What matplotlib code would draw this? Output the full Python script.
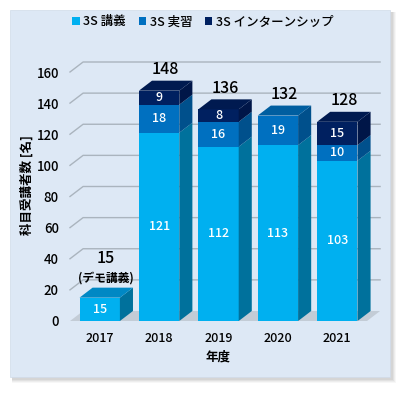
import matplotlib
matplotlib.use("Agg")
import matplotlib.pyplot as plt
from matplotlib.patches import Polygon, Rectangle
import numpy as np

plt.rcParams['font.family'] = ['Noto Sans CJK JP', 'DejaVu Sans']
plt.rcParams['font.weight'] = 'medium'

years = ['2017', '2018', '2019', '2020', '2021']
lecture = [15, 121, 112, 113, 103]
practice = [0, 18, 16, 19, 10]
internship = [0, 9, 8, 0, 15]
series_names = ['3S 講義', '3S 実習', '3S インターンシップ']
yticks = [0, 20, 40, 60, 80, 100, 120, 140, 160]

front_colors = ['#00b0f0', '#0070c0', '#002060']
side_colors = ['#00719c', '#00508c', '#001648']
top_colors = ['#0088c4', '#005ea0', '#001a50']

W, H = 403, 394
fig = plt.figure(figsize=(W / 100, H / 100), dpi=100)
fig.patch.set_facecolor('white')

# panel shadow + panel
for i, a in enumerate([0.06, 0.08, 0.10, 0.12]):
    off = 4 - i
    fig.patches.append(Rectangle(((10 + 2) / W, (H - 377 - 2 - off) / H), (380 + off) / W, (367 + off) / H,
                                 transform=fig.transFigure, facecolor='#808080', alpha=a,
                                 edgecolor='none', zorder=-3))
fig.patches.append(Rectangle((10 / W, (H - 377) / H), 380 / W, 367 / H, transform=fig.transFigure,
                             facecolor='#dde8f5', edgecolor='#d0dbe8', lw=0.5, zorder=-2))

ax_left, ax_right = 70, 367
y0px = 321
ppu = 249 / 160
ytop = 175
ax = fig.add_axes([ax_left / W, (H - y0px) / H, (ax_right - ax_left) / W, ytop * ppu / H])
ax.set_zorder(2)
ax.set_facecolor('none')
ax.set_xlim(-0.5, 4.5)
ax.set_ylim(0, ytop)
for s in ax.spines.values():
    s.set_visible(False)

x = np.arange(len(years))
w = 0.68
dx = 13 / 59
dy = 10 / ppu

# gridlines (3D)
grid_c = '#aab4be'
for t in yticks[1:]:
    ax.plot([-0.5, -0.5 + dx, 4.5 + dx], [t, t + dy, t + dy], color=grid_c, lw=1.0,
            clip_on=False, zorder=1)
# floor
ax.add_patch(Polygon([(-0.5, 0), (4.5, 0), (4.5 + dx, dy), (-0.5 + dx, dy)], closed=True,
                     facecolor='#c3ccd6', edgecolor='none', clip_on=False, zorder=1))

segments = [lecture, practice, internship]
bottom = np.zeros(len(years))
for si, vals in enumerate(segments):
    vals = np.array(vals, dtype=float)
    ax.bar(x, vals, w, bottom=bottom, color=front_colors[si], edgecolor='none', zorder=3,
           label=series_names[si])
    for i in range(len(years)):
        if vals[i] <= 0:
            continue
        b = bottom[i]
        t = b + vals[i]
        xr = x[i] + w / 2
        ax.add_patch(Polygon([(xr, b), (xr + dx, b + dy), (xr + dx, t + dy), (xr, t)], closed=True,
                             facecolor=side_colors[si], edgecolor='none', zorder=3, clip_on=False))
        ax.text(x[i], b + vals[i] / 2, f'{int(vals[i])}', ha='center', va='center',
                color='white', fontsize=9, zorder=5)
    bottom = bottom + vals

# top faces
for i in range(len(years)):
    t = bottom[i]
    top_si = max(si for si, v in enumerate(segments) if v[i] > 0)
    xl = x[i] - w / 2
    xr = x[i] + w / 2
    ax.add_patch(Polygon([(xl, t), (xr, t), (xr + dx, t + dy), (xl + dx, t + dy)], closed=True,
                         facecolor=top_colors[top_si], edgecolor='none', zorder=3, clip_on=False))
    if i == 0:
        ax.text(x[i] + dx / 2, t + dy + 19, f'{int(t)}', ha='center', va='center',
                fontsize=11.5, color='black', zorder=5)
        ax.text(x[i] + dx / 2, t + dy + 6.5, '(デモ講義)', ha='center', va='center',
                fontsize=8.5, color='black', fontweight='bold', zorder=5)
    else:
        ax.text(x[i] + dx / 2, t + dy + 7, f'{int(t)}', ha='center', va='center',
                fontsize=11.5, color='black', zorder=5)

ax.set_yticks(yticks)
ax.set_yticklabels([str(v) for v in yticks], fontsize=9.5)
ax.set_xticks(x)
ax.set_xticklabels(years, fontsize=9)
ax.tick_params(axis='both', length=0)
ax.tick_params(axis='y', pad=8)
ax.tick_params(axis='x', pad=8)
ax.set_xlabel('年度', fontsize=9, labelpad=4, fontweight='bold')
ax.set_ylabel('科目受講者数 [名]', fontsize=9, labelpad=2, fontweight='bold')

leg = fig.legend(loc='center', bbox_to_anchor=(203 / W, (H - 22) / H), ncol=3, frameon=False,
                 fontsize=9, handlelength=0.6, handleheight=0.6, handletextpad=0.3,
                 columnspacing=1.0)
leg.set_zorder(5)

fig.savefig('out.png', dpi=100, facecolor='white')
